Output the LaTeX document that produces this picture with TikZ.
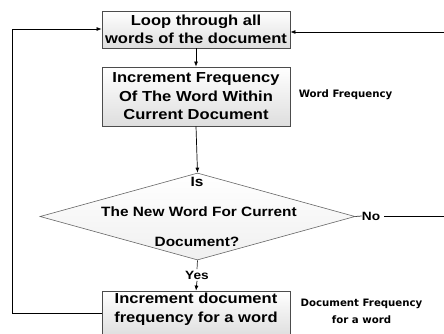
\documentclass[tikz,border=0pt]{standalone}
\usepackage{fontspec}
\setmainfont[FakeStretch=1.14]{Liberation Sans}
\newfontfamily\lblfont{DejaVu Sans}
\usetikzlibrary{shapes.geometric,shadows,arrows.meta}
\begin{document}
\begin{tikzpicture}[x=1pt,y=1pt,
  proc/.style={draw=black!70, line width=0.8pt, top color=white, bottom color=black!13,
    drop shadow={shadow xshift=1.4pt, shadow yshift=-1.4pt, fill=black!40, opacity=0.6},
    minimum width=188pt, inner sep=0pt, align=center,
    font=\bfseries\fontsize{14.5}{18.5}\selectfont},
  txt/.style={inner sep=0pt, align=center, font=\bfseries\fontsize{14.5}{18.5}\selectfont},
  dtxt/.style={inner sep=0pt, font=\bfseries\fontsize{13.5}{16}\selectfont},
  side/.style={inner sep=0pt, align=center, font=\lblfont\bfseries\fontsize{10.2}{17}\selectfont},
  arr/.style={-{Latex[length=5pt,width=4pt]}, line width=0.7pt, black},
  ln/.style={line width=0.7pt, black!80}
]
\useasboundingbox (0,0) rectangle (444,333);
% boxes
\node[proc, minimum height=37pt] (b1) at (196,303.5) {Loop through all\\words of the document};
\node[proc, minimum height=59pt] (b2) at (196,236.5) {Increment Frequency\\Of The Word Within\\Current Document};
\node[proc, minimum height=46pt] (b3) at (196,19) {};
\node[txt] (b3t) at (196,24) {Increment document\\frequency for a word};
% decision
\node[diamond, draw=black!60, line width=0.6pt, top color=white, bottom color=black!6,
      minimum width=315pt, minimum height=87pt, inner sep=0pt] (dec) at (197.5,116.5) {};
\node[dtxt] (is) at (197,151) {Is};
\node[dtxt] (q1) at (199,121) {The New Word For Current};
\node[dtxt] (q2) at (197,91) {Document?};
% labels
\node[dtxt, font=\bfseries\fontsize{12}{14}\selectfont] (no) at (371,117) {No};
\node[dtxt, fill=white, inner sep=1.5pt, font=\bfseries\fontsize{12}{14}\selectfont] (yes) at (197,58) {Yes};
\node[side] (wf) at (345.5,238) {Word Frequency};
\node[side] (df) at (361.5,21.5) {Document Frequency\\for a word};
% connectors
\draw[arr] (b1.south) -- (b2.north);
\draw[arr] (b2.south) -- (dec.north);
\draw[ln] (dec.south) -- (yes.north);
\draw[arr] (yes.south) -- (b3.north);
\draw[ln] (dec.east) -- (no.west);
\coordinate (rc1) at (447,117);
\coordinate (rc2) at (447,301);
\draw[arr] (no.east) ++(4,0) -- (rc1) -- (rc2) -- (rc2 -| b1.east);
\coordinate (lc1) at (12,20);
\coordinate (lc2) at (12,304);
\draw[arr] (lc1 -| b3.west) -- (lc1) -- (lc2) -- (lc2 -| b1.west);
\end{tikzpicture}
\end{document}
